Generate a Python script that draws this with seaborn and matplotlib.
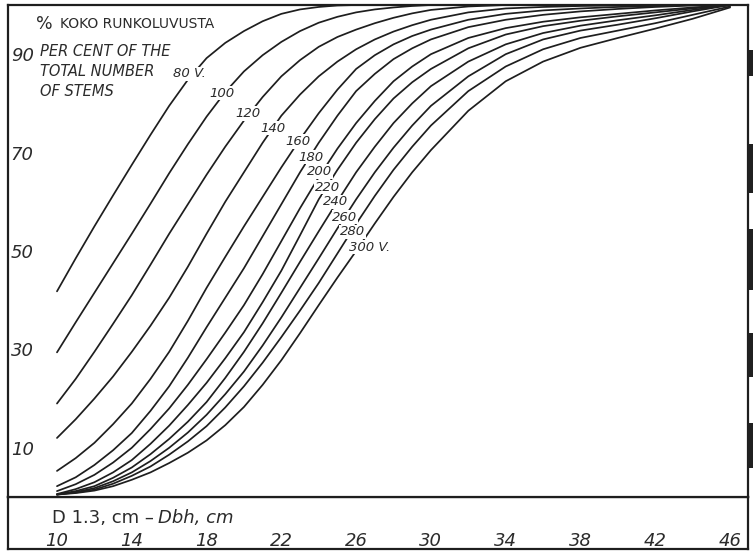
import matplotlib
matplotlib.use("Agg")
import matplotlib.pyplot as plt
from matplotlib.patches import Rectangle
import pandas as pd
import seaborn as sns

# Cumulative diameter distribution of stems by stand age (years)
diameter = [10, 11, 12, 13, 14, 15, 16, 17, 18, 19, 20, 21, 22, 23, 24, 25, 26, 27, 28, 29, 30,
            32, 34, 36, 38, 40, 42, 44, 46]
ages = [80, 100, 120, 140, 160, 180, 200, 220, 240, 260, 280, 300]
age_labels = ["80 V.", "100", "120", "140", "160", "180", "200", "220", "240", "260", "280", "300 V."]

pct_80 = [41.8, 48.5, 55.0, 61.3, 67.5, 73.6, 79.5, 84.8, 89.2, 92.3, 94.7, 96.7, 98.2, 99.1, 99.6,
          99.9, 100, 100, 100, 100, 100, 100, 100, 100, 100, 100, 100, 100, 100]
pct_100 = [29.4, 35.5, 41.5, 47.5, 53.5, 59.6, 65.8, 71.7, 77.3, 82.3, 86.5, 89.8, 92.5, 94.7, 96.4,
           97.6, 98.5, 99.1, 99.5, 99.8, 100, 100, 100, 100, 100, 100, 100, 100, 100]
pct_120 = [19.0, 24.0, 29.5, 35.2, 41.0, 47.2, 53.5, 59.5, 65.5, 71.2, 76.5, 81.3, 85.5, 88.8, 91.5,
           93.5, 95.0, 96.3, 97.4, 98.3, 99.0, 99.7, 100, 100, 100, 100, 100, 100, 100]
pct_140 = [12.0, 15.8, 20.0, 24.5, 29.5, 34.8, 40.5, 46.8, 53.5, 60.0, 66.0, 72.0, 77.5, 81.8, 85.5,
           88.5, 91.0, 93.0, 94.6, 95.9, 97.0, 98.5, 99.3, 99.6, 99.8, 99.9, 100, 100, 100]
pct_160 = [5.3, 7.9, 11.0, 14.8, 19.0, 24.0, 29.5, 35.8, 42.5, 48.8, 55.0, 61.0, 67.0, 72.7, 78.0,
           82.8, 87.0, 89.8, 92.0, 93.7, 95.0, 97.0, 98.2, 98.9, 99.3, 99.6, 99.8, 100, 100]
pct_180 = [2.2, 4.0, 6.5, 9.5, 13.0, 17.5, 22.5, 28.3, 34.5, 40.5, 46.5, 53.0, 59.5, 66.0, 72.0,
           77.5, 82.5, 86.0, 89.0, 91.2, 93.0, 95.5, 97.0, 98.0, 98.7, 99.2, 99.6, 99.9, 100]
pct_200 = [1.2, 2.6, 4.5, 7.0, 10.0, 13.8, 18.0, 22.8, 28.0, 33.4, 39.0, 45.3, 52.0, 58.7, 65.0,
           70.8, 76.0, 80.5, 84.5, 87.5, 90.0, 93.3, 95.3, 96.6, 97.5, 98.2, 98.9, 99.5, 100]
pct_220 = [0.6, 1.6, 3.0, 5.0, 7.5, 10.8, 14.5, 18.7, 23.2, 28.2, 33.5, 39.6, 46.0, 53.2, 60.5,
           66.5, 72.0, 76.8, 81.0, 84.3, 87.0, 91.2, 94.0, 95.7, 96.8, 97.7, 98.5, 99.3, 100]
pct_240 = [0.5, 1.2, 2.2, 3.9, 6.0, 8.7, 11.8, 15.3, 19.3, 24.2, 29.5, 35.3, 41.5, 47.8, 54.0,
           60.1, 66.0, 71.2, 76.0, 80.0, 83.5, 88.5, 92.0, 94.3, 95.8, 96.9, 97.9, 99.0, 100]
pct_260 = [0.5, 1.0, 1.8, 3.2, 5.0, 7.3, 10.0, 13.1, 16.7, 20.9, 25.5, 30.8, 36.5, 42.5, 48.5,
           54.6, 60.5, 66.0, 71.0, 75.5, 79.5, 85.5, 90.0, 93.0, 94.8, 96.0, 97.3, 98.7, 100]
pct_280 = [0.5, 0.9, 1.5, 2.7, 4.3, 6.2, 8.6, 11.3, 14.4, 18.2, 22.5, 27.3, 32.5, 37.9, 43.5,
           49.5, 55.5, 61.2, 66.5, 71.2, 75.5, 82.5, 87.5, 91.0, 93.3, 94.8, 96.3, 98.0, 99.7]
pct_300 = [0.5, 0.8, 1.3, 2.2, 3.5, 5.0, 6.9, 9.0, 11.5, 14.6, 18.3, 22.8, 27.8, 33.3, 39.0,
           44.6, 50.0, 55.6, 61.0, 66.0, 70.5, 78.5, 84.5, 88.5, 91.3, 93.3, 95.2, 97.2, 99.5]

series = [pct_80, pct_100, pct_120, pct_140, pct_160, pct_180,
          pct_200, pct_220, pct_240, pct_260, pct_280, pct_300]

# where each age label is written across its curve (diameter, per cent)
label_d = [17.1, 18.8, 20.2, 21.55, 22.9, 23.6, 24.05, 24.45, 24.9, 25.4, 25.8, 26.7]
label_p = [86.0, 82.1, 78.0, 75.0, 72.2, 69.1, 66.1, 63.0, 60.0, 56.9, 53.9, 50.8]

x_ticks = [10, 14, 18, 22, 26, 30, 34, 38, 42, 46]
y_ticks = [10, 30, 50, 70, 90]

df = pd.DataFrame({
    "diameter": diameter * len(ages),
    "pct": [v for s in series for v in s],
    "age": [a for a in ages for _ in diameter],
})

W, H = 753, 552
sns.set_theme(style="white")
plt.rcParams["font.family"] = ["DejaVu Sans"]
INK = "#1e1e1e"
TXT = "#2b2b2b"

fig = plt.figure(figsize=(W / 100, H / 100), dpi=100)
fig.patch.set_facecolor("white")


def fx(px):
    return px / W


def fy(py):
    return 1 - py / H


# strip underneath carrying the diameter scale
ax2 = fig.add_axes([fx(8), fy(549), fx(748) - fx(8), fy(497) - fy(549)])
# main plotting area
ax = fig.add_axes([fx(8), fy(497), fx(748) - fx(8), fy(5) - fy(497)])
ax2.set_zorder(1)
ax.set_zorder(2)

sns.lineplot(data=df, x="diameter", y="pct", units="age", estimator=None,
             color=INK, linewidth=1.25, ax=ax, legend=False, zorder=2)

ax.set_xlim(7.38, 46.96)
ax.set_ylim(0, 100)
ax.set_xlabel("")
ax.set_ylabel("")
ax.set_facecolor("white")
for a in (ax, ax2):
    for sp in a.spines.values():
        sp.set_color(INK)
        sp.set_linewidth(1.6)
        sp.set_visible(True)

ax.set_xticks(x_ticks)
ax.set_xticklabels([str(v) for v in x_ticks], fontsize=13, style="italic", color=TXT)
ax.tick_params(axis="x", length=0, pad=25)
ax.set_yticks(y_ticks)
ax.set_yticklabels([str(v) for v in y_ticks], fontsize=13, style="italic", color=TXT)
for lab in ax.get_yticklabels():
    lab.set_horizontalalignment("left")
ax.tick_params(axis="y", length=0, pad=-2)

ax2.set_xticks([])
ax2.set_yticks([])
ax2.set_facecolor("white")

# age labels interrupting the curves
for d, p, t in zip(label_d, label_p, age_labels):
    ax.text(d, p, t, fontsize=9.5, style="italic", color=TXT, ha="center", va="center",
            zorder=5, bbox=dict(facecolor="white", edgecolor="none", pad=0.6))

# axis titles
fig.text(fx(36), fy(24), "%", fontsize=12.5, color=TXT, va="center", ha="left")
fig.text(fx(60), fy(24), "KOKO RUNKOLUVUSTA", fontsize=10, color=TXT, va="center", ha="left")
for yy, line in zip([51, 71, 91], ["PER CENT OF THE", "TOTAL NUMBER", "OF STEMS"]):
    fig.text(fx(40), fy(yy), line, fontsize=10.5, style="italic", color=TXT, va="center", ha="left")

fig.text(fx(52), fy(518), "D 1.3, cm \u2013", fontsize=13, color=TXT, va="center", ha="left")
fig.text(fx(158), fy(518), "Dbh, cm", fontsize=13, style="italic", color=TXT, va="center", ha="left")

# dark marks along the right page edge
for y0, y1 in [(50, 76), (144, 193), (229, 290), (333, 377), (423, 468)]:
    fig.patches.append(Rectangle((fx(748), fy(y1)), fx(753) - fx(748), fy(y0) - fy(y1),
                                 transform=fig.transFigure, facecolor="#202020",
                                 edgecolor="none", zorder=10))

fig.savefig("out.png", dpi=100, facecolor="white")
